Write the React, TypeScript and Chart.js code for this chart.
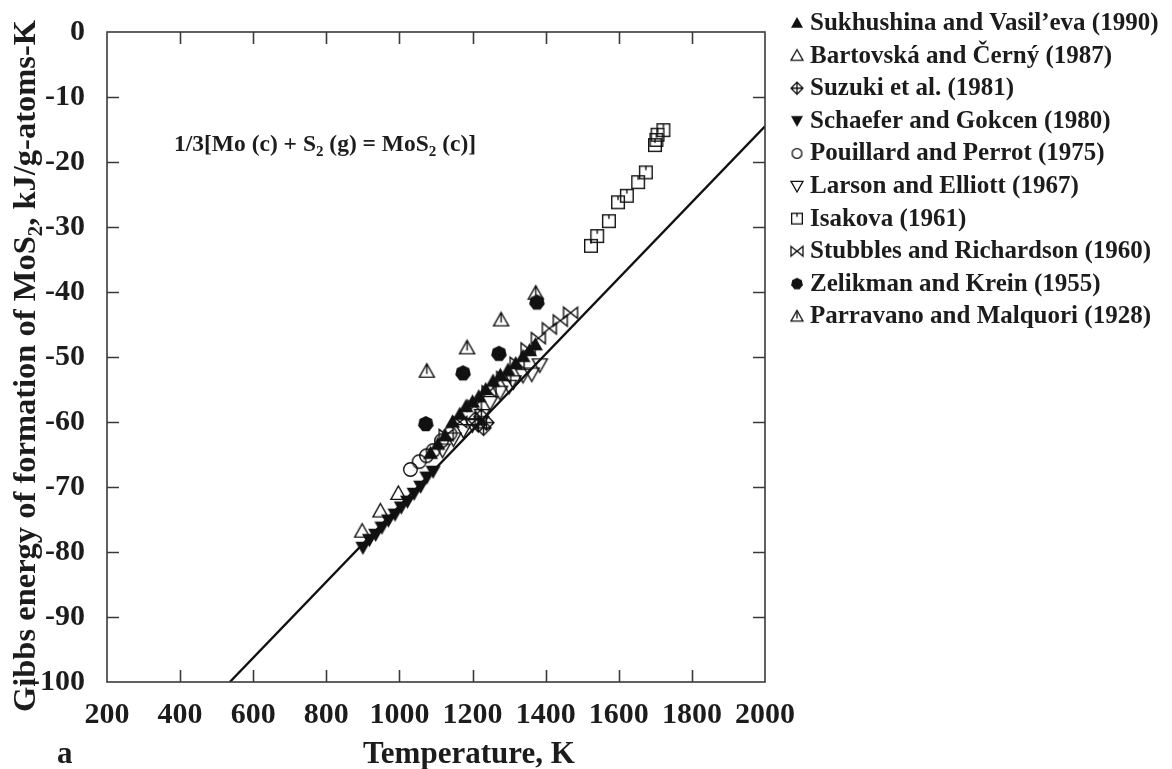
import { useEffect, useRef } from "react";
import { Chart, registerables } from "chart.js";

Chart.register(...registerables);

const W = 1172;
const H = 769;
const SERIF = '"Liberation Serif", "Times New Roman", serif';
const INK = "#1c1c1c";
const AXIS = "#3a3a3a";

// Temperature (K) and Gibbs energy (kJ) for each source
const sukhushinaT = [1085, 1105, 1125, 1145, 1165, 1182, 1200, 1217, 1236, 1256, 1276, 1297, 1318, 1338, 1356, 1372];
const sukhushinaG = [-64.8, -63.4, -62.1, -60.0, -58.8, -57.6, -56.9, -56.1, -55.0, -53.7, -52.8, -52.0, -51.0, -49.9, -49.0, -48.1];

const bartovskaT = [898, 948, 997];
const bartovskaG = [-76.8, -73.7, -71.0];

const suzukiT = [1207, 1216, 1224, 1230, 1238];
const suzukiG = [-59.6, -60.4, -59.2, -60.9, -60.1];

const schaeferT = [900, 918, 935, 952, 970, 988, 1005, 1022, 1040, 1058, 1075, 1092];
const schaeferG = [-79.3, -78.1, -77.3, -76.2, -75.1, -74.2, -73.1, -72.2, -71.0, -69.9, -68.5, -67.6];

const pouillardT = [1030, 1054, 1074, 1092, 1115, 1138];
const pouillardG = [-67.3, -66.1, -65.2, -64.4, -62.9, -61.8];

const larsonT = [1118, 1148, 1175, 1200, 1226, 1248, 1275, 1300, 1312, 1338, 1362, 1384];
const larsonG = [-64.3, -62.6, -61.3, -60.4, -59.0, -57.0, -55.4, -54.5, -53.8, -52.8, -52.6, -51.2];

const isakovaT = [1524, 1541, 1573, 1598, 1622, 1653, 1674, 1699, 1703, 1706, 1722];
const isakovaG = [-32.9, -31.4, -29.1, -26.2, -25.2, -23.1, -21.6, -17.4, -16.6, -15.8, -15.1];

const stubblesT = [1128, 1165, 1205, 1245, 1285, 1322, 1352, 1380, 1410, 1440, 1468];
const stubblesG = [-62.0, -60.0, -57.5, -55.3, -53.1, -50.9, -48.7, -47.1, -45.6, -44.4, -43.2];

const zelikmanT = [1072, 1174, 1272, 1376];
const zelikmanG = [-60.3, -52.5, -49.5, -41.6];

const parravanoT = [1075, 1185, 1278, 1373];
const parravanoG = [-52.2, -48.6, -44.3, -40.2];

// Assessed line
const lineT = [536, 2000];
const lineG = [-100, -14.5];

const seriesLabels = [
  "Sukhushina and Vasil\u2019eva (1990)",
  "Bartovsk\u00e1 and \u010cern\u00fd (1987)",
  "Suzuki et al. (1981)",
  "Schaefer and Gokcen (1980)",
  "Pouillard and Perrot (1975)",
  "Larson and Elliott (1967)",
  "Isakova (1961)",
  "Stubbles and Richardson (1960)",
  "Zelikman and Krein (1955)",
  "Parravano and Malquori (1928)",
];
const seriesT = [sukhushinaT, bartovskaT, suzukiT, schaeferT, pouillardT, larsonT, isakovaT, stubblesT, zelikmanT, parravanoT];
const seriesG = [sukhushinaG, bartovskaG, suzukiG, schaeferG, pouillardG, larsonG, isakovaG, stubblesG, zelikmanG, parravanoG];
const seriesMarker = ["triUpFilled", "triUpOpen", "diamondCross", "triDownFilled", "circleOpen", "triDownOpen", "squareTick", "bowtie", "hexFilled", "triLine"];

const xMin = 200, xMax = 2000, xStep = 200;
const yMin = -100, yMax = 0, yStep = 10;

function makeMarker(kind: string, size: number, lw = 1.4): HTMLCanvasElement {
  const d = Math.ceil(size + 4);
  const c = document.createElement("canvas");
  c.width = d;
  c.height = d;
  const g = c.getContext("2d")!;
  g.translate(d / 2, d / 2);
  g.strokeStyle = "#111";
  g.fillStyle = "#111";
  g.lineWidth = lw;
  g.lineJoin = "miter";
  const r = size / 2;
  const tri = (down: boolean) => {
    const s = down ? -1 : 1;
    g.beginPath();
    g.moveTo(0, -r * s);
    g.lineTo(r, r * 0.78 * s);
    g.lineTo(-r, r * 0.78 * s);
    g.closePath();
  };
  switch (kind) {
    case "triUpFilled":
      tri(false); g.fill(); break;
    case "triDownFilled":
      tri(true); g.fill(); break;
    case "triUpOpen":
      tri(false); g.stroke(); break;
    case "triDownOpen":
      tri(true); g.stroke(); break;
    case "triLine":
      tri(false); g.stroke();
      g.beginPath(); g.moveTo(0, -r); g.lineTo(0, r * 0.35); g.stroke();
      break;
    case "circleOpen":
      g.beginPath(); g.arc(0, 0, r - lw / 2, 0, Math.PI * 2); g.stroke(); break;
    case "hexFilled": {
      g.beginPath();
      for (let i = 0; i < 7; i++) {
        const a = -Math.PI / 2 + (i * 2 * Math.PI) / 7;
        const px = Math.cos(a) * r, py = Math.sin(a) * r;
        if (i === 0) g.moveTo(px, py); else g.lineTo(px, py);
      }
      g.closePath(); g.fill();
      break;
    }
    case "diamondCross":
      g.beginPath();
      g.moveTo(0, -r); g.lineTo(r, 0); g.lineTo(0, r); g.lineTo(-r, 0); g.closePath();
      g.moveTo(0, -r); g.lineTo(0, r); g.moveTo(-r, 0); g.lineTo(r, 0);
      g.stroke();
      break;
    case "squareTick": {
      const h = r - lw / 2;
      g.strokeRect(-h, -h, 2 * h, 2 * h);
      g.beginPath(); g.moveTo(0, -h); g.lineTo(0, -h * 0.35); g.stroke();
      break;
    }
    case "bowtie":
      g.beginPath();
      g.moveTo(-r, -r * 0.8); g.lineTo(r, r * 0.8); g.lineTo(r, -r * 0.8); g.lineTo(-r, r * 0.8); g.closePath();
      g.stroke();
      break;
  }
  return c;
}

const plotSize: Record<string, number> = {
  triUpFilled: 15, triDownFilled: 15, triUpOpen: 15, triDownOpen: 15, triLine: 15,
  circleOpen: 15, hexFilled: 16, diamondCross: 15, squareTick: 14, bowtie: 14,
};

type Part = { t: string; sub?: boolean };

function richWidth(ctx: CanvasRenderingContext2D, parts: Part[], size: number) {
  let w = 0;
  for (const p of parts) {
    ctx.font = `bold ${p.sub ? Math.round(size * 0.65) : size}px ${SERIF}`;
    w += ctx.measureText(p.t).width;
  }
  return w;
}

function drawRich(ctx: CanvasRenderingContext2D, parts: Part[], x: number, y: number, size: number) {
  let cx = x;
  ctx.textBaseline = "alphabetic";
  ctx.textAlign = "left";
  for (const p of parts) {
    const s = p.sub ? Math.round(size * 0.65) : size;
    ctx.font = `bold ${s}px ${SERIF}`;
    ctx.fillText(p.t, cx, p.sub ? y + size * 0.22 : y);
    cx += ctx.measureText(p.t).width;
  }
}

const yTitle: Part[] = [
  { t: "Gibbs energy of formation of MoS" },
  { t: "2", sub: true },
  { t: ", kJ/g-atoms-K" },
];
const reaction: Part[] = [
  { t: "1/3[Mo (c) + S" },
  { t: "2", sub: true },
  { t: " (g) = MoS" },
  { t: "2", sub: true },
  { t: " (c)]" },
];

export default function App() {
  const ref = useRef<HTMLCanvasElement | null>(null);

  useEffect(() => {
    const canvas = ref.current;
    if (!canvas) return;

    const legendMarkers = seriesMarker.map((m) => makeMarker(m, m === "circleOpen" ? 11 : 12, 1.3));

    const frame = {
      id: "frame",
      afterDraw(chart: any) {
        const { ctx, chartArea: a, scales } = chart;
        const xs = scales.x, ys = scales.y;
        ctx.save();
        // box
        ctx.strokeStyle = AXIS;
        ctx.lineWidth = 1.6;
        ctx.strokeRect(a.left, a.top, a.right - a.left, a.bottom - a.top);
        // inward ticks on all four sides
        const tl = 12;
        ctx.beginPath();
        for (let v = xMin + xStep; v < xMax; v += xStep) {
          const px = Math.round(xs.getPixelForValue(v)) + 0.5;
          ctx.moveTo(px, a.bottom); ctx.lineTo(px, a.bottom - tl);
          ctx.moveTo(px, a.top); ctx.lineTo(px, a.top + tl);
        }
        for (let v = yMin + yStep; v < yMax; v += yStep) {
          const py = Math.round(ys.getPixelForValue(v)) + 0.5;
          ctx.moveTo(a.left, py); ctx.lineTo(a.left + tl, py);
          ctx.moveTo(a.right, py); ctx.lineTo(a.right - tl, py);
        }
        ctx.stroke();

        ctx.fillStyle = INK;
        // y-axis title
        ctx.save();
        ctx.translate(35, 366);
        ctx.rotate(-Math.PI / 2);
        const tw = richWidth(ctx, yTitle, 32.5);
        drawRich(ctx, yTitle, -tw / 2, 0, 32.5);
        ctx.restore();
        // x-axis title and panel letter
        drawRich(ctx, [{ t: "Temperature, K" }], 363, 763, 31);
        drawRich(ctx, [{ t: "a" }], 57, 763, 31);
        // reaction
        drawRich(ctx, reaction, 174, 151, 23.5);

        // legend
        for (let i = 0; i < seriesLabels.length; i++) {
          const base = 30 + i * 32.6;
          const m = legendMarkers[i];
          ctx.drawImage(m, 797 - m.width / 2, base - 7 - m.height / 2);
          drawRich(ctx, [{ t: seriesLabels[i] }], 810, base, 25);
        }
        ctx.restore();
      },
    };

    const datasets: any[] = seriesLabels.map((label, i) => ({
      label,
      data: seriesT[i].map((t, j) => ({ x: t, y: seriesG[i][j] })),
      pointStyle: makeMarker(seriesMarker[i], plotSize[seriesMarker[i]], 1.4),
      pointRadius: 7,
      showLine: false,
      order: 1,
    }));
    datasets.push({
      label: "line",
      data: lineT.map((t, j) => ({ x: t, y: lineG[j] })),
      showLine: true,
      borderColor: "#111",
      borderWidth: 2.4,
      pointRadius: 0,
      order: 0,
    });

    const tickFont = { family: SERIF, size: 30, weight: "bold" as const };
    const chart = new Chart(canvas, {
      type: "scatter",
      data: { datasets },
      options: {
        responsive: false,
        animation: false,
        devicePixelRatio: 1,
        layout: { padding: { top: 23, right: 407, bottom: 0, left: 0 } },
        plugins: { legend: { display: false }, tooltip: { enabled: false } },
        scales: {
          x: {
            type: "linear",
            min: xMin,
            max: xMax,
            afterFit: (s: any) => { s.height = 87; },
            grid: { display: false },
            border: { display: false },
            ticks: {
              stepSize: xStep,
              autoSkip: false,
              maxRotation: 0,
              padding: 7,
              color: INK,
              font: tickFont,
              callback: (v: any) => String(v),
            },
          },
          y: {
            type: "linear",
            min: yMin,
            max: yMax,
            afterFit: (s: any) => { s.width = 107; },
            grid: { display: false },
            border: { display: false },
            ticks: {
              stepSize: yStep,
              autoSkip: false,
              padding: 14,
              color: INK,
              font: tickFont,
              callback: (v: any) => String(v),
            },
          },
        },
      },
      plugins: [frame],
    });

    return () => chart.destroy();
  }, []);

  return (
    <div style={{ position: "absolute", left: 0, top: 0, width: W, height: H, background: "#fff" }}>
      <canvas ref={ref} width={W} height={H} style={{ width: W, height: H, display: "block" }} />
    </div>
  );
}
